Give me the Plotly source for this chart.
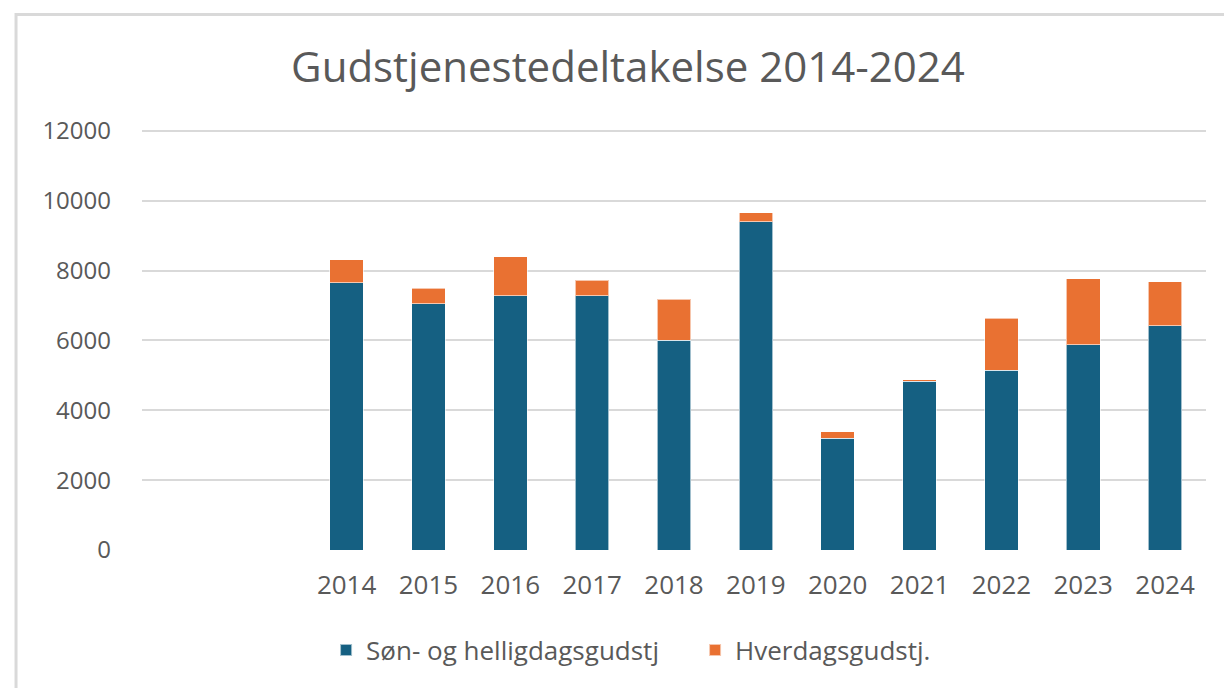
import plotly.graph_objects as go

years = [2014, 2015, 2016, 2017, 2018, 2019, 2020, 2021, 2022, 2023, 2024]
son_og_helligdag = [7650, 7045, 7275, 7275, 6005, 9395, 3200, 4830, 5145, 5870, 6415]
hverdag = [655, 450, 1125, 450, 1175, 265, 190, 45, 1490, 1890, 1260]
y_ticks = [0, 2000, 4000, 6000, 8000, 10000, 12000]

FONT = "Open Sans"
GREY = "#595959"

fig = go.Figure()
fig.add_trace(go.Bar(x=years, y=son_og_helligdag, name="Søn- og helligdagsgudstj",
                     marker=dict(color="#156082", line=dict(color="rgba(255,255,255,0.6)", width=1)), width=0.41))
fig.add_trace(go.Bar(x=years, y=hverdag, name="Hverdagsgudstj.",
                     marker=dict(color="#E97132", line=dict(color="rgba(255,255,255,0.6)", width=1)), width=0.41))

fig.update_layout(
    barmode="stack",
    width=1224, height=680,
    margin=dict(l=134, r=26, t=121, b=138),
    paper_bgcolor="white", plot_bgcolor="white",
    font=dict(family=FONT, color=GREY),
    title=dict(text="Gudstjenestedeltakelse 2014-2024", x=0.5065, xref="container", xanchor="center",
               y=0.913, yref="container", yanchor="middle",
               font=dict(family=FONT, size=42, color=GREY)),
    xaxis=dict(range=[2011.5, 2024.5], tickvals=years, ticktext=[str(y) for y in years],
               showgrid=False, zeroline=False, showline=False, ticks="",
               tickfont=dict(size=26, color=GREY), ticklabelstandoff=17),
    yaxis=dict(range=[0, 12050], tickvals=y_ticks, ticktext=[str(v) for v in y_ticks],
               showgrid=True, gridcolor="#d9d9d9", gridwidth=2, zeroline=False, showline=False, ticks="",
               tickfont=dict(size=24, color=GREY), ticklabelstandoff=30),
    legend=dict(orientation="h", x=0.173, xanchor="left", y=-0.2377, yanchor="middle",
                font=dict(size=26, color=GREY), itemsizing="constant", traceorder="normal",
                itemwidth=30, entrywidth=324, entrywidthmode="pixels"),
    showlegend=True,
)
fig.add_shape(type="rect", xref="paper", yref="paper", x0=-0.1184, x1=1.1, y0=-0.5, y1=1.2717,
              line=dict(color="#d9d9d9", width=3), fillcolor="rgba(0,0,0,0)", layer="below")

fig.write_html("out.html")
